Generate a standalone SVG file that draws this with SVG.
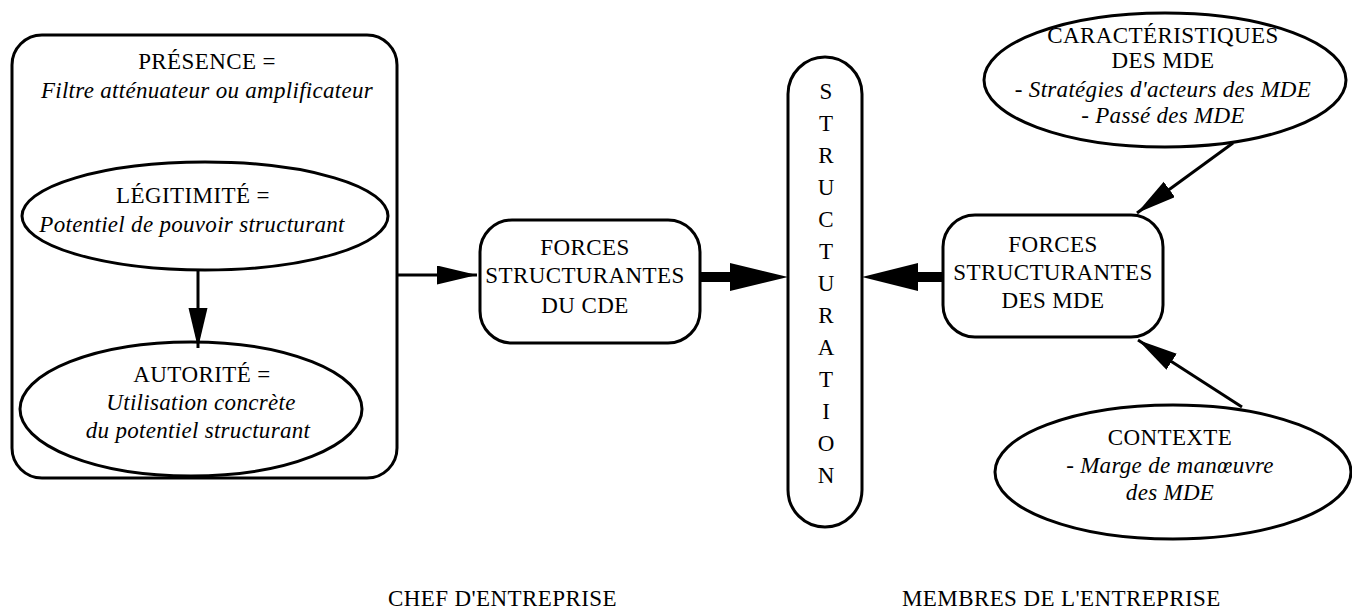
<svg xmlns="http://www.w3.org/2000/svg" width="1352" height="612" viewBox="0 0 1352 612">
<style>
.shape{fill:#fff;stroke:#000;stroke-width:3}
text{font-family:"Liberation Serif","Times New Roman",serif;font-size:23px;fill:#000;text-anchor:middle;letter-spacing:0.4px}
.it{font-style:italic;letter-spacing:0.3px}
.st{text-anchor:start}
.v{letter-spacing:0}
.line{stroke:#000;stroke-width:3;fill:none}
.head{fill:#000;stroke:none}
</style>
<defs>
<marker id="ah" markerUnits="userSpaceOnUse" markerWidth="42" markerHeight="20" refX="40" refY="9.5" orient="auto">
<path d="M0,0 L40,9.5 L0,19 z" fill="#000"/>
</marker>
</defs>
<rect width="1352" height="612" fill="#fff"/>

<g id="presence">
<rect class="shape" x="12" y="35" width="385" height="443" rx="30"/>
<text x="207" y="69">PRÉSENCE =</text>
<text class="it" x="207" y="98">Filtre atténuateur ou amplificateur</text>
</g>
<g id="legitimite">
<ellipse class="shape" cx="205" cy="216" rx="183" ry="54"/>
<text x="193" y="203">LÉGITIMITÉ =</text>
<text class="it" x="192" y="232">Potentiel de pouvoir structurant</text>
</g>
<g id="autorite">
<ellipse class="shape" cx="191" cy="409" rx="171" ry="67"/>
<text x="202" y="382">AUTORITÉ =</text>
<text class="it" x="201" y="410">Utilisation concrète</text>
<text class="it" x="198" y="438">du potentiel structurant</text>
</g>
<g id="forces-cde">
<rect class="shape" x="480" y="220" width="220" height="123" rx="32"/>
<text x="585" y="255">FORCES</text>
<text x="585" y="283">STRUCTURANTES</text>
<text x="585" y="313">DU CDE</text>
</g>
<g id="structuration">
<rect class="shape" x="788" y="57" width="74" height="470" rx="37"/>
<text class="v" x="826" y="99">S</text>
<text class="v" x="826" y="131">T</text>
<text class="v" x="826" y="163">R</text>
<text class="v" x="826" y="195">U</text>
<text class="v" x="826" y="227">C</text>
<text class="v" x="826" y="259">T</text>
<text class="v" x="826" y="291">U</text>
<text class="v" x="826" y="323">R</text>
<text class="v" x="826" y="355">A</text>
<text class="v" x="826" y="387">T</text>
<text class="v" x="826" y="419">I</text>
<text class="v" x="826" y="451">O</text>
<text class="v" x="826" y="483">N</text>
</g>
<g id="forces-mde">
<rect class="shape" x="943" y="215" width="220" height="122" rx="32"/>
<text x="1053" y="252">FORCES</text>
<text x="1053" y="280">STRUCTURANTES</text>
<text x="1053" y="308">DES MDE</text>
</g>
<g id="caracteristiques">
<ellipse class="shape" cx="1165" cy="80" rx="181" ry="67"/>
<text x="1163" y="43">CARACTÉRISTIQUES</text>
<text x="1163" y="68">DES MDE</text>
<text class="it" x="1163" y="97">- Stratégies d'acteurs des MDE</text>
<text class="it" x="1163" y="123">- Passé des MDE</text>
</g>
<g id="contexte">
<ellipse class="shape" cx="1173" cy="472" rx="178" ry="67"/>
<text x="1170" y="445">CONTEXTE</text>
<text class="it" x="1170" y="473">- Marge de manœuvre</text>
<text class="it" x="1170" y="500">des MDE</text>
</g>
<g id="labels">
<text class="st" x="388" y="606">CHEF D'ENTREPRISE</text>
<text class="st" x="902" y="606">MEMBRES DE L'ENTREPRISE</text>
</g>

<g id="connectors">
<line class="line" x1="198" y1="270" x2="198" y2="348" marker-end="url(#ah)"/>
<line class="line" x1="397" y1="275" x2="477" y2="275" marker-end="url(#ah)"/>
<rect class="head" x="700" y="272" width="32" height="10"/>
<polygon class="head" points="730,263 788,277 730,291"/>
<rect class="head" x="916" y="272" width="27" height="10"/>
<polygon class="head" points="862,277 918,263 918,291"/>
<line class="line" x1="1233" y1="143" x2="1137" y2="213" marker-end="url(#ah)"/>
<line class="line" x1="1242" y1="407" x2="1138" y2="340" marker-end="url(#ah)"/>
</g>
</svg>
